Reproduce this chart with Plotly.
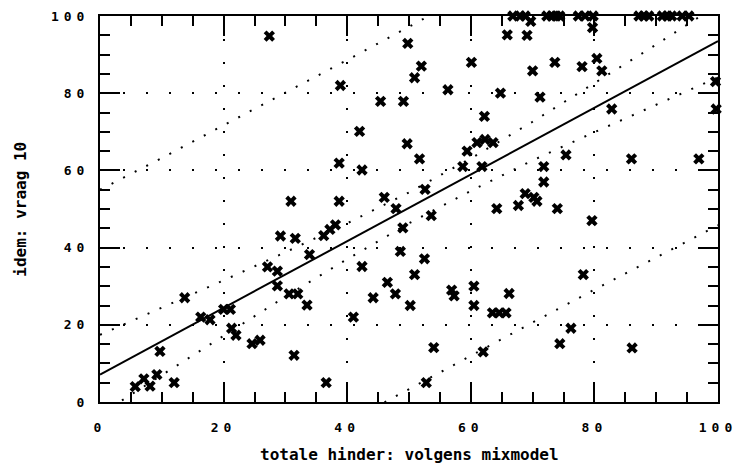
import plotly.graph_objects as go
from plotly.subplots import make_subplots

# ---- data ----
pts_x = [5.7, 7.1, 8.1, 9.2, 9.7, 12.0, 13.7, 16.3, 17.8, 20.0, 21.1, 21.3, 22.0, 24.6, 25.9,
         27.4, 27.1, 28.7, 28.7, 29.2, 30.6, 32.0, 30.9, 31.6, 31.4, 33.5, 33.9, 36.2, 37.2, 38.1,
         36.6, 38.7, 38.7, 38.9, 41.0, 42.0, 42.4, 42.4, 44.2, 45.4, 46.0, 46.5, 47.8, 47.9, 48.6,
         49.0, 49.1, 49.7, 49.8, 50.2, 50.9, 50.9, 51.7, 52.0, 52.5, 52.6, 52.8, 53.6, 54.0, 56.3,
         56.9, 57.3, 58.7, 59.4, 60.1, 60.5, 60.5, 61.0, 61.8, 62.0, 62.2, 62.3, 63.6, 63.5, 64.6,
         65.7, 64.2, 64.8, 65.9, 66.2, 66.8, 68.0, 67.7, 68.8, 69.1, 68.8, 69.7, 70.0, 70.2, 70.7,
         71.2, 71.8, 71.8, 72.3, 73.1, 73.8, 74.4, 73.6, 74.0, 74.4, 75.4, 76.2, 77.4, 78.5, 78.0,
         78.2, 79.8, 79.7, 79.6, 80.4, 81.2, 82.8, 86.0, 86.1, 87.2, 88.0, 88.8, 91.0, 91.8, 92.5,
         94.2, 95.3, 96.9, 99.6, 99.7]
pts_y = [4.0, 6.0, 4.1, 7.1, 13.1, 5.0, 27.0, 22.0, 21.3, 24.0, 24.0, 19.1, 17.3, 15.1, 16.0,
         94.8, 35.0, 33.9, 30.1, 43.0, 28.0, 28.0, 52.0, 42.4, 12.1, 25.1, 38.2, 43.1, 44.7, 45.9,
         5.0, 52.0, 61.9, 82.0, 22.0, 70.1, 60.1, 35.1, 27.0, 77.9, 53.0, 31.0, 28.0, 50.1, 39.0,
         45.1, 77.9, 66.9, 92.9, 25.0, 84.0, 33.0, 63.0, 87.0, 37.1, 55.1, 5.0, 48.3, 14.1, 80.9,
         29.0, 27.5, 61.0, 65.0, 88.0, 30.0, 25.0, 67.2, 61.0, 13.0, 74.0, 68.0, 67.2, 23.1, 23.1,
         23.1, 50.1, 80.0, 95.1, 28.1, 100, 100, 50.9, 54.0, 95.0, 100, 98.6, 85.8, 53.0, 52.0,
         79.0, 61.0, 57.0, 100, 100, 100, 100, 88.0, 50.1, 15.1, 64.0, 19.1, 100, 100, 86.9,
         33.0, 100, 97.0, 47.0, 89.0, 85.8, 75.9, 63.0, 14.0, 100, 100, 100, 100, 100, 100,
         100, 100, 63.0, 83.0, 75.9]

reg_x = [0, 100]
reg_y = [7.1, 93.5]

band_x = [0, 10, 20, 30, 40, 50, 60, 70, 80, 90, 100]
conf_hi = [17.4, 24.4, 31.5, 38.8, 46.3, 54.3, 63.1, 72.6, 82.5, 92.6, 102.9]
conf_lo = [-3.2, 7.0, 17.2, 27.3, 37.0, 46.3, 54.7, 62.6, 69.9, 77.1, 84.1]
pred_hi = [55.0, 63.2, 71.7, 80.1, 88.6, 97.2, 105.9, 114.6, 123.3, 132.2, 141.2]
pred_lo = [-40.8, -31.8, -22.9, -14.1, -5.3, 3.4, 12.0, 20.6, 29.1, 37.5, 45.8]

tick_vals = [0, 20, 40, 60, 80, 100]
tick_labels = ["0", "20", "40", "60", "80", "100"]
x_title = "totale hinder: volgens mixmodel"
y_title = "idem: vraag 10"

FONT = "DejaVu Sans Mono"
SP = "letter-spacing:5px"

def wide(s):
    return f'<span style="{SP}"><b>{s}</b></span>'

fig = make_subplots(rows=1, cols=1)
dot = dict(color="black", width=2, dash="2px,11px")
for yy in (pred_hi, pred_lo, conf_hi, conf_lo):
    fig.add_trace(go.Scatter(x=band_x, y=yy, mode="lines", line=dot), row=1, col=1)
fig.add_trace(go.Scatter(x=reg_x, y=reg_y, mode="lines", line=dict(color="black", width=2)),
              row=1, col=1)
fig.add_trace(go.Scatter(x=pts_x, y=pts_y, mode="markers", cliponaxis=False,
                         marker=dict(symbol="x", size=10, color="black")), row=1, col=1)

axis_cfg = dict(
    range=[0, 100], showline=True, linecolor="black", linewidth=2, mirror="ticks",
    ticks="inside", ticklen=20, tickwidth=2, tickcolor="black",
    tickmode="array", tickvals=tick_vals, ticktext=[wide(t) for t in tick_labels],
    tickfont=dict(family=FONT, size=13, color="black"), ticklabeloverflow="allow",
    showgrid=True, gridcolor="black", gridwidth=2, griddash="2px,21px",
    zeroline=False, automargin=False,
    minor=dict(dtick=5, tick0=0, ticks="inside", ticklen=10, tickwidth=2,
               tickcolor="black", showgrid=False),
)
fig.update_xaxes(**axis_cfg, ticklabelstandoff=12, row=1, col=1)
fig.update_yaxes(**axis_cfg, ticklabelstandoff=6, row=1, col=1)

fig.update_layout(
    template="none",
    width=736, height=467, showlegend=False,
    margin=dict(l=100, r=18, t=16, b=65),
    paper_bgcolor="white", plot_bgcolor="white",
    annotations=[
        dict(text="<b>" + x_title + "</b>", xref="paper", yref="paper", x=0.5, y=-0.137,
             xanchor="center", yanchor="middle", showarrow=False,
             font=dict(family=FONT, size=16, color="black")),
        dict(text="<b>" + y_title + "</b>", xref="paper", yref="paper", x=-0.13, y=0.5,
             xanchor="center", yanchor="middle", showarrow=False, textangle=-90,
             font=dict(family=FONT, size=16, color="black")),
    ],
)
fig.write_html("out.html")
